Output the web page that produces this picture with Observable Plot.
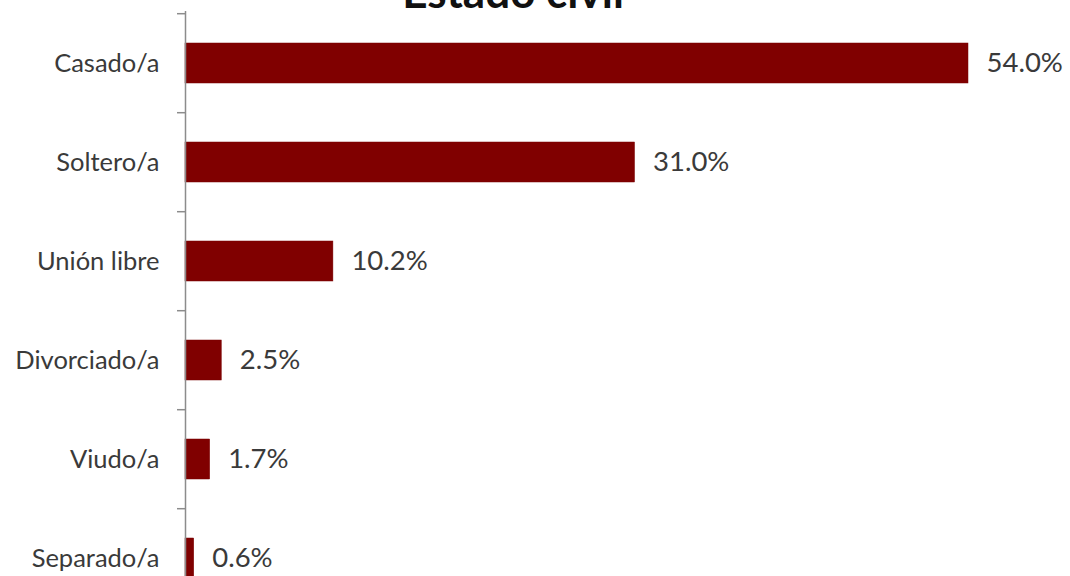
<!DOCTYPE html>
<html>
<head>
<meta charset="utf-8">
<script src="https://cdn.jsdelivr.net/npm/d3@7"></script>
<script src="https://cdn.jsdelivr.net/npm/@observablehq/plot@0.6"></script>
<style>
  html, body { margin: 0; padding: 0; overflow: hidden; background: #ffffff; }
  #wrap { position: relative; width: 1070px; height: 576px; overflow: hidden; }
  #title { position: absolute; left: 513px; top: -31px; transform: translateX(-50%);
           font-family: "Lato", sans-serif; font-weight: 700; font-size: 44px; line-height: 44px;
           color: #111; white-space: nowrap; z-index: 2; }
  #chart { position: absolute; left: 0; top: 0; }
</style>
</head>
<body>
<div id="wrap">
  <div id="title">Estado civil</div>
  <div id="chart"></div>
</div>
<script>
const categories = ["Casado/a", "Soltero/a", "Unión libre", "Divorciado/a", "Viudo/a", "Separado/a"];
const values = [54.0, 31.0, 10.2, 2.5, 1.7, 0.6];
const valueLabels = ["54.0%", "31.0%", "10.2%", "2.5%", "1.7%", "0.6%"];

const data = categories.map((c, i) => ({cat: c, value: values[i], label: valueLabels[i]}));

const chart = Plot.plot({
  width: 1070,
  height: 620,
  marginLeft: 185,
  marginRight: 15,
  marginTop: 11,
  marginBottom: 11,
  style: {background: "transparent", fontFamily: "Lato, sans-serif"},
  x: {domain: [0, 60], axis: null},
  y: {domain: categories, paddingInner: 0.6, paddingOuter: 0.3, label: null},
  marks: [
    Plot.axisY({tickSize: 0, tickPadding: 26, fontSize: 25.5, color: "#3a3a3a", label: null}),
    Plot.barX(data, {y: "cat", x: "value", fill: "#800000", stroke: "#7a0000", strokeWidth: 0.5}),
    Plot.ruleY(categories, {y: d => d, x1: -0.55, x2: 0, dy: -49.8, stroke: "#8c8c8c", strokeWidth: 1.5}),
    Plot.ruleX([0], {stroke: "#8c8c8c", strokeWidth: 1.5}),
    Plot.text(data, {y: "cat", x: "value", text: "label", dx: 18, textAnchor: "start", fontSize: 27.5, fill: "#3a3a3a"})
  ]
});
document.getElementById("chart").appendChild(chart);
</script>
</body>
</html>
